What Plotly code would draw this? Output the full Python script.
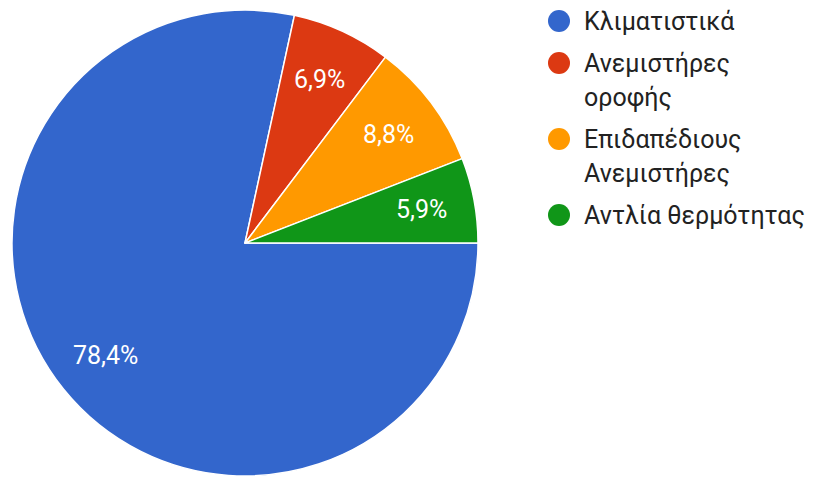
import math
import plotly.graph_objects as go

# Share of each cooling device
labels = ["Κλιματιστικά", "Ανεμιστήρες οροφής", "Επιδαπέδιους Ανεμιστήρες", "Αντλία θερμότητας"]
legend_lines = [["Κλιματιστικά"], ["Ανεμιστήρες", "οροφής"], ["Επιδαπέδιους", "Ανεμιστήρες"], ["Αντλία θερμότητας"]]
values = [78.4, 6.9, 8.8, 5.9]
colors = ["#3366cc", "#dc3912", "#ff9900", "#109618"]

W, H = 815, 479
FONT = "Roboto, Arial, sans-serif"

# Pie geometry in pixels (left, right, top, bottom of the disc)
PIE_L, PIE_R, PIE_T, PIE_B = 12, 478, 10, 476
CX, CY = (PIE_L + PIE_R) / 2, (PIE_T + PIE_B) / 2
R = (PIE_R - PIE_L) / 2
START_DEG = 90          # first slice starts at 3 o'clock, runs clockwise
LABEL_FRAC = 0.77       # radial position of the percentage labels

pct_text = [f"{v:.1f}".replace(".", ",") + "%" for v in values]

fig = go.Figure()

fig.add_trace(go.Pie(
    labels=labels,
    values=values,
    textinfo="none",
    marker=dict(colors=colors, line=dict(color="white", width=1.5)),
    sort=False,
    direction="clockwise",
    rotation=START_DEG,
    showlegend=False,
    hoverinfo="label+percent",
    domain=dict(x=[PIE_L / W, PIE_R / W], y=[1 - PIE_B / H, 1 - PIE_T / H]),
))

# Percentage labels placed along each slice's bisector
total = sum(values)
acc = 0.0
for v, t in zip(values, pct_text):
    mid = math.radians(START_DEG + 360 * (acc + v / 2) / total)
    acc += v
    fig.add_annotation(
        x=CX + LABEL_FRAC * R * math.sin(mid),
        y=CY - LABEL_FRAC * R * math.cos(mid),
        xref="x", yref="y", text=t, showarrow=False,
        xanchor="center", yanchor="middle",
        font=dict(family=FONT, size=25, color="white"),
    )

# Custom legend: round swatches beside (possibly wrapped) labels
row_y = []
y = 21
for lines in legend_lines:
    row_y.append(y)
    y += 34 * (len(lines) - 1) + 42

fig.add_trace(go.Scatter(
    x=[559] * len(labels), y=row_y,
    mode="markers",
    marker=dict(size=22, color=colors, line=dict(width=0)),
    showlegend=False, hoverinfo="skip",
    xaxis="x", yaxis="y",
))

for ry, lines in zip(row_y, legend_lines):
    for k, line in enumerate(lines):
        fig.add_annotation(
            x=582, y=ry + 34 * k, xref="x", yref="y",
            text=line, showarrow=False,
            xanchor="left", yanchor="middle",
            font=dict(family=FONT, size=25, color="#222222"),
        )

fig.update_layout(
    width=W, height=H,
    margin=dict(l=0, r=0, t=0, b=0),
    paper_bgcolor="white", plot_bgcolor="rgba(0,0,0,0)",
    xaxis=dict(range=[0, W], visible=False, fixedrange=True),
    yaxis=dict(range=[H, 0], visible=False, fixedrange=True),
    showlegend=False,
)

fig.write_html("out.html")
